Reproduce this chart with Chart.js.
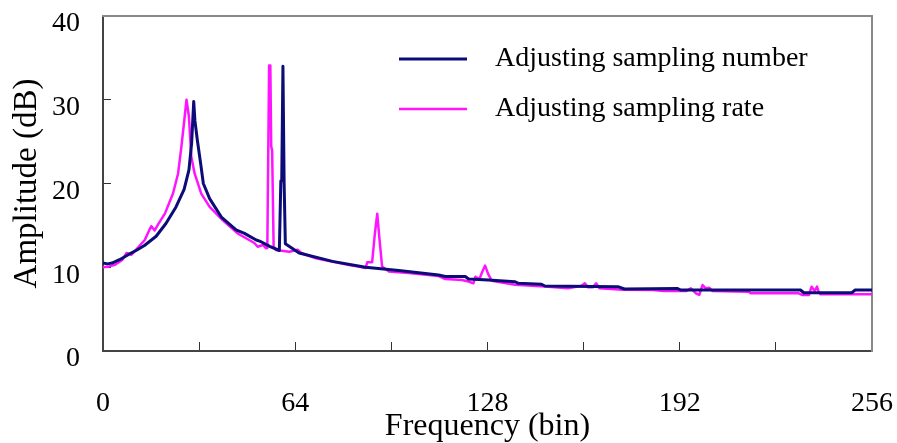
<!DOCTYPE html>
<html>
<head>
<meta charset="utf-8">
<script src="https://cdn.jsdelivr.net/npm/chart.js@4.4.1/dist/chart.umd.min.js"></script>
<style>
  body { margin: 0; background: #fff; }
</style>
</head>
<body>
<canvas id="chartFreq" width="897" height="443"></canvas>
<script>
// series (x in bins, y in dB)
const freqNumber = [0, 1.5, 3, 5.5, 8.4, 11, 13.8, 17.7, 21.0, 24.3, 27.0, 28.6, 29.5, 30.2, 30.6, 31.4, 32.5, 33.4,
  35.5, 39.4, 44.3, 47.1, 51, 52.6, 55.5, 58.7,
  59.2, 59.5, 59.9, 60.3, 60.7, 65.3, 76.4, 87.4, 98.5, 111.7, 114, 120.6, 121.7, 128.3, 137.2, 138.3, 146,
  147.1, 171.4, 173.6, 191.3, 192.4, 232.2, 233.3, 249.3, 250.4, 256];
const ampNumber = [10.5, 10.4, 10.5, 10.9, 11.5, 12.0, 12.6, 13.7, 15.25, 17.2, 19.3, 21.6, 24.8, 29.8, 27.5, 25.2, 22.4, 20.0,
  18.2, 16.0, 14.45, 14.05, 13.25, 13.05, 12.5, 12.0,
  20.3, 20.3, 34.0, 20.0, 12.8, 11.7, 10.7, 10.0, 9.6, 9.07, 8.9, 8.9, 8.6, 8.48, 8.27, 8.08, 7.96,
  7.76, 7.68, 7.4, 7.45, 7.28, 7.28, 6.96, 6.96, 7.28, 7.28];

const freqRate = [0, 2, 4, 6.5, 7.8, 9.5, 11.5, 13.9, 15.5, 16.1, 17.2, 18.5, 20.6, 23.3, 25.0, 26.1, 27.2, 27.8,
  28.6, 29.4, 30.5, 32.7, 35.5, 39.9, 45, 50.4, 51.5, 53.2, 54.3, 54.7, 55.3, 55.7, 56.0, 56.3, 56.8, 57.6, 62, 64.8, 66, 70.9, 81.9,
  85, 87.4, 88, 89.6, 90.5, 91.3, 92, 92.9, 95.2, 101.8, 111.7, 114, 119.5, 121.7, 123.3, 124, 125.3, 126.2, 127.2,
  128.2, 129.4, 137.2, 147.1, 154.8, 159.3, 160.4, 161.5, 163, 164.2, 165.3, 173, 183, 186.9, 194.1, 195.7, 197.4,
  198.5, 199.6, 200.7, 201.8, 202.9, 215, 215.6, 231.6, 232.7, 235, 235.9, 236.9, 237.7, 238.3, 238.8, 256];
const ampRate = [10.0, 10.1, 10.3, 10.9, 11.7, 11.5, 12.3, 13.25, 14.5, 14.9, 14.4, 15.2, 16.4, 18.8, 21.2, 24.4, 28.0, 30.0,
  28.0, 23.2, 21.2, 18.8, 17.2, 15.6, 14.0, 12.9, 12.45, 12.66, 12.26, 12.3, 34.1, 34.1, 24.4, 24.0, 12.5, 12.06, 11.86, 12.1, 11.7, 11.07, 10.27,
  10.1, 9.9, 10.6, 10.6, 14.0, 16.4, 13.5, 10.1, 9.5, 9.3, 8.95, 8.6, 8.48, 8.3, 8.08, 8.87, 8.6, 9.4, 10.2,
  9.2, 8.4, 7.9, 7.7, 7.48, 7.8, 8.08, 7.6, 7.6, 8.08, 7.48, 7.32, 7.28, 7.16, 7.16, 7.48, 6.89,
  6.69, 7.88, 7.48, 7.56, 7.16, 7.08, 6.89, 6.89, 6.69, 6.69, 7.68, 7.16, 7.68, 7.0, 6.77, 6.77];

const seriesNames = ['Adjusting sampling number', 'Adjusting sampling rate'];
const seriesColors = ['#0c0c78', '#ff14ff'];
const xTickLabels = [0, 64, 128, 192, 256];

const serif = "'Liberation Serif', 'DejaVu Serif', serif";

function toPoints(xs, ys) {
  return xs.map((x, i) => ({x: x, y: ys[i]}));
}

// fixed axis sizes, and no extra room asked for the end labels
function fixSize(w, h) {
  return (s) => {
    if (w !== null) s.width = w;
    if (h !== null) s.height = h;
    s.paddingLeft = 0; s.paddingRight = 0; s.paddingTop = 0; s.paddingBottom = 0;
  };
}

// legend drawn inside the plot, two rows, like the original
const innerLegend = {
  id: 'innerLegend',
  afterDraw(chart) {
    const ctx = chart.ctx;
    const area = chart.chartArea;
    ctx.save();
    chart.data.datasets.forEach((ds, i) => {
      const y = area.top + 43 + i * 50;
      const x0 = area.left + 296;
      ctx.strokeStyle = ds.borderColor;
      ctx.lineWidth = ds.borderWidth;
      ctx.beginPath();
      ctx.moveTo(x0, y);
      ctx.lineTo(x0 + 68, y);
      ctx.stroke();
      ctx.fillStyle = '#000';
      ctx.font = "28px " + serif;
      ctx.textBaseline = 'middle';
      ctx.fillText(ds.label, x0 + 96, y);
    });
    ctx.restore();
  }
};

var ctx = document.getElementById('chartFreq').getContext('2d');
var myChart = new Chart(ctx, {
  type: 'line',
  data: {
    datasets: [
      {
        label: seriesNames[0],
        data: toPoints(freqNumber, ampNumber),
        borderColor: seriesColors[0],
        borderWidth: 3,
        borderJoinStyle: 'round',
        pointRadius: 0,
        tension: 0
      },
      {
        label: seriesNames[1],
        data: toPoints(freqRate, ampRate),
        borderColor: seriesColors[1],
        borderWidth: 2.5,
        borderJoinStyle: 'round',
        pointRadius: 0,
        tension: 0
      }
    ]
  },
  plugins: [innerLegend],
  options: {
    responsive: false,
    animation: false,
    layout: { padding: 0 },
    plugins: {
      legend: { display: false },
      tooltip: { enabled: false }
    },
    scales: {
      x: {
        type: 'linear',
        position: 'bottom',
        min: 0,
        max: 256,
        afterFit: fixSize(null, 92),
        ticks: {
          stepSize: 32,
          autoSkip: false,
          maxRotation: 0,
          padding: 45,
          color: '#000',
          font: { family: serif, size: 28 },
          callback: (v) => xTickLabels.includes(v) ? String(v) : ''
        },
        grid: {
          drawOnChartArea: false,
          tickLength: -9,
          lineWidth: 1,
          color: (c) => (c.tick && c.tick.value === 256) ? 'rgba(0,0,0,0)' : '#333'
        },
        border: { color: '#444', width: 2 },
        title: {
          display: true,
          text: 'Frequency (bin)',
          color: '#000',
          font: { family: serif, size: 32, lineHeight: 1 },
          padding: 0
        }
      },
      y: {
        position: 'left',
        min: 0,
        max: 40,
        afterFit: fixSize(103, null),
        ticks: {
          stepSize: 10,
          padding: 31,
          labelOffset: 8,
          color: '#000',
          font: { family: serif, size: 28 }
        },
        grid: {
          drawOnChartArea: false,
          tickLength: -8,
          lineWidth: 1,
          color: (c) => (c.tick && (c.tick.value === 0 || c.tick.value === 40)) ? 'rgba(0,0,0,0)' : '#333'
        },
        border: { color: '#444', width: 2 },
        title: {
          display: true,
          text: 'Amplitude (dB)',
          color: '#000',
          font: { family: serif, size: 33, lineHeight: 1 },
          padding: { top: 11, bottom: 0 }
        }
      },
      xTop: {
        type: 'linear',
        position: 'top',
        min: 0,
        max: 256,
        afterFit: fixSize(null, 16),
        ticks: { display: false },
        grid: { display: false, drawTicks: false },
        border: { color: '#8a8a8a', width: 2 }
      },
      yRight: {
        type: 'linear',
        position: 'right',
        min: 0,
        max: 40,
        afterFit: fixSize(25, null),
        ticks: { display: false },
        grid: { display: false, drawTicks: false },
        border: { color: '#8a8a8a', width: 2 }
      }
    }
  }
});
</script>
</body>
</html>
